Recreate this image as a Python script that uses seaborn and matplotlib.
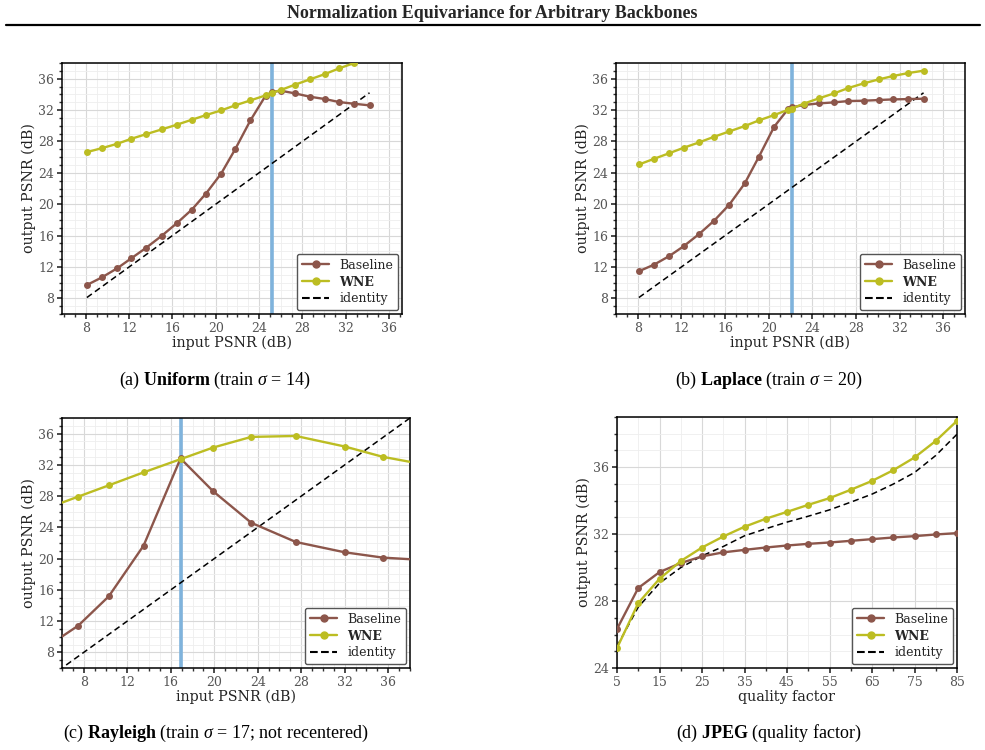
import numpy as np
import pandas as pd
import matplotlib
matplotlib.use("Agg")
import matplotlib.pyplot as plt
from matplotlib.ticker import MultipleLocator
from matplotlib.lines import Line2D
import seaborn as sns

# ---------------- data ----------------
xa = [8.1, 9.5, 10.9, 12.2, 13.6, 15.0, 16.4, 17.8, 19.1, 20.5, 21.8, 23.2,
      24.6, 25.2, 26.0, 27.3, 28.7, 30.1, 31.4, 32.8, 34.2]
base_a = [9.7, 10.68, 11.83, 13.1, 14.47, 15.96, 17.57, 19.32, 21.36, 23.9, 27.02,
          30.68, 33.83, 34.3, 34.47, 34.13, 33.7, 33.4, 33.02, 32.8, 32.6]
wne_a = [26.64, 27.15, 27.7, 28.34, 28.94, 29.53, 30.13, 30.77, 31.36, 31.96, 32.6,
         33.23, 33.87, 34.2, 34.55, 35.23, 35.91, 36.6, 37.32, 38.0, 38.7]
id_a = [8.1, 34.2]
train_a = 25.2

xb = [8.1, 9.5, 10.9, 12.2, 13.6, 15.0, 16.4, 17.8, 19.1, 20.5, 21.8, 22.1,
      23.2, 24.6, 26.0, 27.3, 28.7, 30.1, 31.4, 32.8, 34.2]
base_b = [11.45, 12.3, 13.4, 14.64, 16.17, 17.9, 19.96, 22.64, 26.04, 29.87, 32.17,
          32.34, 32.64, 32.85, 32.98, 33.15, 33.19, 33.28, 33.36, 33.4, 33.45]
wne_b = [25.06, 25.79, 26.51, 27.19, 27.87, 28.6, 29.28, 29.96, 30.68, 31.36, 32.05,
         32.17, 32.81, 33.49, 34.13, 34.81, 35.4, 35.91, 36.34, 36.72, 37.02]
id_b = [8.1, 34.2]
train_b = 22.1

xc = [4.9, 7.5, 10.3, 13.5, 16.9, 19.9, 23.4, 27.5, 32.0, 35.5, 39.5]
base_c = [9.0, 11.43, 15.17, 21.66, 32.82, 28.62, 24.59, 22.13, 20.81, 20.13, 19.8]
wne_c = [26.6, 27.94, 29.38, 31.04, 32.73, 34.22, 35.58, 35.7, 34.35, 33.03, 32.0]
id_c = [4.9, 39.5]
train_c = 16.9

qd = [5, 10, 15, 20, 25, 30, 35, 40, 45, 50, 55, 60, 65, 70, 75, 80, 85]
base_d = [26.33, 28.78, 29.73, 30.27, 30.67, 30.91, 31.06, 31.2, 31.32, 31.42,
          31.5, 31.6, 31.7, 31.8, 31.88, 31.98, 32.06]
wne_d = [25.19, 27.88, 29.33, 30.39, 31.2, 31.86, 32.44, 32.92, 33.33, 33.75,
         34.15, 34.65, 35.18, 35.82, 36.58, 37.57, 38.77]
id_d = [25.3, 27.64, 29.07, 30.0, 30.7, 31.26, 31.9, 32.32, 32.72, 33.07,
        33.45, 33.91, 34.39, 34.99, 35.68, 36.7, 37.97]

captions = [
    r"(a) $\mathbf{Uniform}$ (train $\sigma$ = 14)",
    r"(b) $\mathbf{Laplace}$ (train $\sigma$ = 20)",
    r"(c) $\mathbf{Rayleigh}$ (train $\sigma$ = 17; not recentered)",
    r"(d) $\mathbf{JPEG}$ (quality factor)",
]
title = "Normalization Equivariance for Arbitrary Backbones"

# ---------------- style ----------------
sns.set_theme(style="whitegrid")
plt.rcParams.update({
    "font.family": ["DejaVu Serif"],
    "mathtext.fontset": "custom",
    "mathtext.rm": "Liberation Serif",
    "mathtext.it": "Liberation Serif:italic",
    "mathtext.bf": "Liberation Serif:bold",
    "axes.edgecolor": "black",
    "axes.linewidth": 1.1,
    "xtick.bottom": True,
    "ytick.left": True,
    "xtick.color": "#333333",
    "ytick.color": "#333333",
    "xtick.labelcolor": "#555555",
    "ytick.labelcolor": "#555555",
    "xtick.major.size": 3.5,
    "ytick.major.size": 3.5,
    "xtick.minor.size": 2,
    "ytick.minor.size": 2,
    "xtick.minor.visible": True,
    "ytick.minor.visible": True,
})

BROWN = "#8c564b"
OLIVE = "#bcbd22"
VCOL = "#7fb3dc"

fig = plt.figure(figsize=(9.85, 7.5), dpi=100)
W, H = 985.0, 750.0


def add_ax(l, r, t, b):
    return fig.add_axes([l / W, 1 - b / H, (r - l) / W, (b - t) / H])


axes = [
    add_ax(62, 402, 63, 314),
    add_ax(616, 965, 63, 314),
    add_ax(62, 410, 418, 668),
    add_ax(617, 957, 417, 668),
]

panels = [
    (xa, base_a, wne_a, id_a, id_a, train_a),
    (xb, base_b, wne_b, id_b, id_b, train_b),
    (xc, base_c, wne_c, id_c, id_c, train_c),
    (qd, base_d, wne_d, qd, id_d, None),
]
xlims = [(5.8, 37.2), (6, 38), (6, 38), (5, 85)]
ylims = [(6, 38), (6, 38), (6, 38), (24, 39)]

for i, ax in enumerate(axes):
    x, yb, yw, idx, idy, tr = panels[i]
    df = pd.DataFrame({"x": list(x) * 2, "y": list(yb) + list(yw),
                       "method": ["Baseline"] * len(x) + ["WNE"] * len(x)})
    ax.grid(True, which="major", color="#d8d8d8", lw=0.8)
    ax.grid(True, which="minor", color="#eeeeee", lw=0.6)
    ax.set_axisbelow(True)
    if tr is not None:
        ax.axvline(tr, color=VCOL, lw=2.6, zorder=1.5)
    sns.lineplot(data=df, x="x", y="y", hue="method",
                 palette={"Baseline": BROWN, "WNE": OLIVE},
                 marker="o", markersize=5, markeredgewidth=0, lw=1.7,
                 sort=False, estimator=None, ax=ax, legend=False, zorder=3)
    ax.plot(idx, idy, ls=(0, (4, 2.5)), color="black", lw=1.1, zorder=2.5)
    ax.set_xlim(*xlims[i])
    ax.set_ylim(*ylims[i])
    ax.set_ylabel("output PSNR (dB)", fontsize=10.3, color="#222222", labelpad=2)
    if i < 3:
        ax.set_xlabel("input PSNR (dB)", fontsize=10.3, color="#222222", labelpad=1)
        ax.xaxis.set_major_locator(MultipleLocator(4))
        ax.xaxis.set_minor_locator(MultipleLocator(1))
        ax.yaxis.set_major_locator(MultipleLocator(4))
        ax.yaxis.set_minor_locator(MultipleLocator(1))
    else:
        ax.set_xlabel("quality factor", fontsize=10.3, color="#222222", labelpad=1)
        ax.set_xticks(list(range(5, 86, 10)))
        ax.xaxis.set_minor_locator(MultipleLocator(5))
        ax.yaxis.set_major_locator(MultipleLocator(4))
        ax.yaxis.set_minor_locator(MultipleLocator(1))
    ax.tick_params(labelsize=9, pad=2)
    for s in ax.spines.values():
        s.set_color("black")
        s.set_linewidth(1.1)

    handles = [
        Line2D([], [], color=BROWN, marker="o", markersize=5, lw=1.7),
        Line2D([], [], color=OLIVE, marker="o", markersize=5, lw=1.7),
        Line2D([], [], color="black", ls="--", lw=1.5),
    ]
    leg = ax.legend(handles, ["Baseline", "WNE", "identity"], loc="lower right",
                    fontsize=9, frameon=True, fancybox=True, framealpha=1,
                    borderaxespad=0.3, handlelength=2.2, labelspacing=0.3)
    leg.get_frame().set_edgecolor("#555555")
    leg.get_frame().set_linewidth(1.0)
    leg.get_texts()[1].set_fontweight("bold")

# captions
cap_pos = [(215, 380), (769, 380), (216, 733), (769, 733)]
for (cx, cy), cap in zip(cap_pos, captions):
    fig.text(cx / W, 1 - cy / H, cap, ha="center", va="center",
             fontsize=13, family="Liberation Serif", color="black")

fig.text(492 / W, 1 - 13 / H, title, ha="center", va="center",
         fontsize=12.9, family="Liberation Serif", fontweight="bold")
fig.add_artist(Line2D([6 / W, 980 / W], [1 - 25 / H, 1 - 25 / H],
                      color="black", lw=1.6))

fig.savefig("out.png", dpi=100)
